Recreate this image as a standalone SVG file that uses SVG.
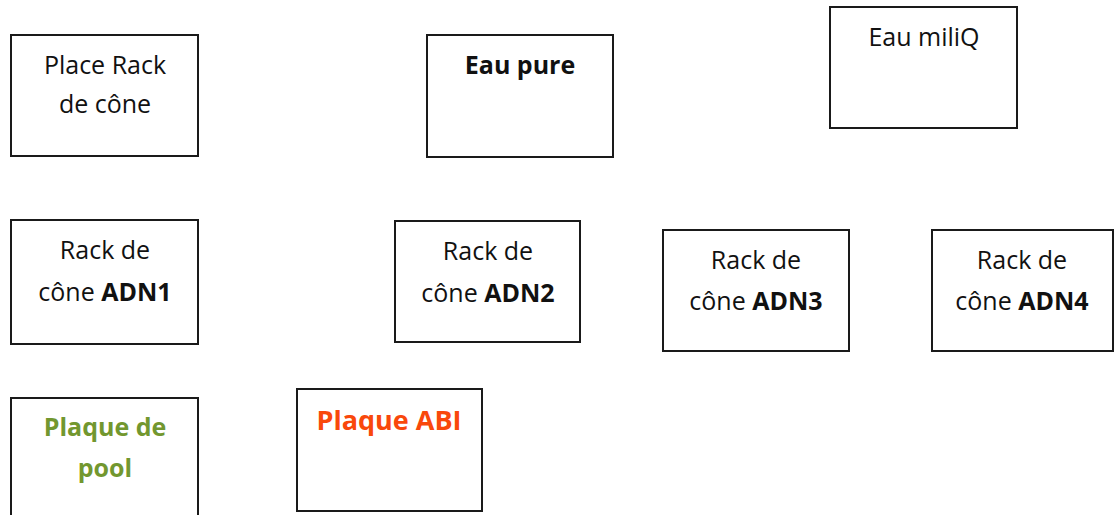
<svg xmlns="http://www.w3.org/2000/svg" width="1115" height="515" viewBox="0 0 1115 515">
<style>
.box{fill:#fff;stroke:#1a1a1a;stroke-width:2}
text{font-family:"Open Sans","Liberation Sans",sans-serif;font-size:25px;fill:#111;text-anchor:middle}
.b{font-weight:bold}
.green{fill:#72972F;font-weight:bold}
.orange{fill:#F9480B;font-weight:bold;font-size:27px}
</style>
<rect width="1115" height="515" fill="#fff"/>
<g id="connectors"/>
<g id="place-rack"><rect class="box" x="11" y="35" width="187" height="121"/><text x="105" y="74">Place Rack</text><text x="105" y="113">de cône</text></g>
<g id="eau-pure"><rect class="box" x="427" y="35" width="186" height="122"/><text class="b" x="520" y="74">Eau pure</text></g>
<g id="eau-miliq"><rect class="box" x="830" y="7" width="187" height="121"/><text x="924" y="46">Eau miliQ</text></g>
<g id="adn1"><rect class="box" x="11" y="220" width="187" height="124"/><text x="105" y="259">Rack de</text><text x="105" y="301">cône <tspan class="b">ADN1</tspan></text></g>
<g id="adn2"><rect class="box" x="395" y="221" width="185" height="121"/><text x="488" y="260">Rack de</text><text x="488" y="302">cône <tspan class="b">ADN2</tspan></text></g>
<g id="adn3"><rect class="box" x="663" y="230" width="186" height="121"/><text x="756" y="269">Rack de</text><text x="756" y="310">cône <tspan class="b">ADN3</tspan></text></g>
<g id="adn4"><rect class="box" x="932" y="230" width="181" height="121"/><text x="1022" y="269">Rack de</text><text x="1022" y="310">cône <tspan class="b">ADN4</tspan></text></g>
<g id="plaque-pool"><rect class="box" x="11" y="398" width="187" height="130"/><text class="green" x="105" y="436">Plaque de</text><text class="green" x="105" y="477">pool</text></g>
<g id="plaque-abi"><rect class="box" x="297" y="389" width="185" height="122"/><text class="orange" x="389" y="430">Plaque ABI</text></g>
</svg>
